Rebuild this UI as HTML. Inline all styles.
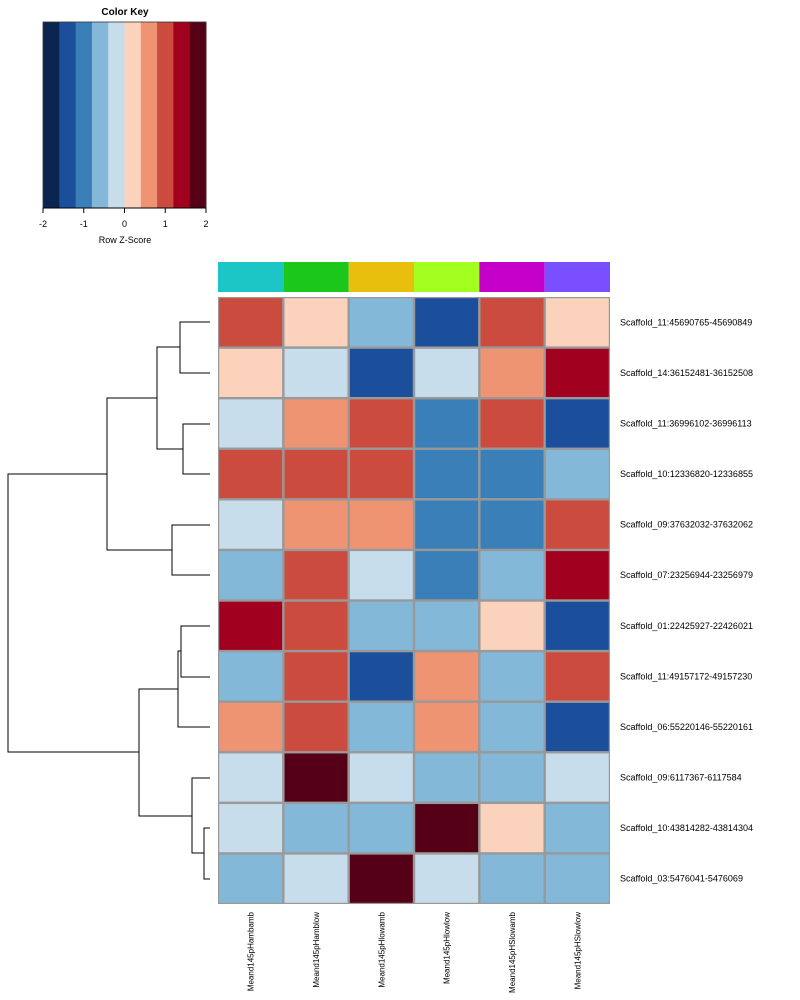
<!DOCTYPE html>
<html><head><meta charset="utf-8"><style>
body{margin:0;background:#fff;}
svg{display:block;font-family:"Liberation Sans",Arial,sans-serif;}
</style></head><body>
<svg id="c" width="800" height="1000">
<g id="key"></g>
<g id="dend" stroke="#000" fill="none" stroke-width="1">
<path d="M210,322H180V373H210 M210,424H183V474H210 M180,347H157V449H183 M210,525H172V575H210 M157,398H107V550H172"/>
<path d="M210,626H181V677H210 M181,651H178V727H210 M210,828H204V879H210 M210,778H192V853H204 M178,689H139V816H192 M107,474H8V752H139"/>
</g>
<g id="colbar"></g>
<g id="hm"></g>
<g id="rl"></g>
<g id="cl"></g>
</svg>
<script>
const rowNames=["Scaffold_11:45690765-45690849","Scaffold_14:36152481-36152508","Scaffold_11:36996102-36996113","Scaffold_10:12336820-12336855","Scaffold_09:37632032-37632062","Scaffold_07:23256944-23256979","Scaffold_01:22425927-22426021","Scaffold_11:49157172-49157230","Scaffold_06:55220146-55220161","Scaffold_09:6117367-6117584","Scaffold_10:43814282-43814304","Scaffold_03:5476041-5476069"];
const colNames=["Meand145pHambamb","Meand145pHamblow","Meand145pHlowamb","Meand145pHlowlow","Meand145pHSlowamb","Meand145pHSlowlow"];
const colGroupColors=["#1cc6c6","#1cc71c","#e8bf0c","#a3ff1f","#c400c9","#7a4fff"];
const zValues=[
[1.0,0.2,-0.6,-1.4,1.0,0.2],
[0.2,-0.2,-1.4,-0.2,0.6,1.4],
[-0.2,0.6,1.0,-1.0,1.0,-1.4],
[1.0,1.0,1.0,-1.0,-1.0,-0.6],
[-0.2,0.6,0.6,-1.0,-1.0,1.0],
[-0.6,1.0,-0.2,-1.0,-0.6,1.4],
[1.4,1.0,-0.6,-0.6,0.2,-1.4],
[-0.6,1.0,-1.4,0.6,-0.6,1.0],
[0.6,1.0,-0.6,0.6,-0.6,-1.4],
[-0.2,1.8,-0.2,-0.6,-0.6,-0.2],
[-0.2,-0.6,-0.6,1.8,0.2,-0.6],
[-0.6,-0.2,1.8,-0.2,-0.6,-0.6]];
const palette=["#0b2550","#1b4f9c","#3a7fb8","#83b8d8","#c7ddec","#fbd2bc","#ef9472","#cb4b3f","#a2001f","#550016"];
const keyTicks=[-2,-1,0,1,2];
const NS="http://www.w3.org/2000/svg";
function mk(p,t,a){const e=document.createElementNS(NS,t);for(const k in a)e.setAttribute(k,a[k]);p.appendChild(e);return e;}
const zmin=-2,zmax=2;
function colorOf(z){let i=Math.floor((z-zmin)/(zmax-zmin)*palette.length);i=Math.max(0,Math.min(palette.length-1,i));return palette[i];}
// key
const key=document.getElementById('key');
const kx0=43,kx1=206,ky0=22,ky1=208;
const kx=v=>kx0+(v-zmin)/(zmax-zmin)*(kx1-kx0);
palette.forEach((c,i)=>{const v0=zmin+i*(zmax-zmin)/palette.length,v1=zmin+(i+1)*(zmax-zmin)/palette.length;
const r=mk(key,'rect',{x:kx(v0),y:ky0,width:kx(v1)-kx(v0)+0.5,height:ky1-ky0,fill:c});

});
mk(key,'rect',{x:kx0,y:ky0,width:kx1-kx0,height:ky1-ky0,fill:'none',stroke:'#333','stroke-width':0.8});
mk(key,'line',{x1:kx0,x2:kx1,y1:ky1,y2:ky1,stroke:'#000'});
keyTicks.forEach(t=>{mk(key,'line',{x1:kx(t),x2:kx(t),y1:ky1,y2:ky1+5,stroke:'#000'});
const tx=mk(key,'text',{x:kx(t),y:ky1+19,'font-size':9,'text-anchor':'middle'});tx.textContent=t;

});
let t=mk(key,'text',{x:125,y:15,'font-size':10,'font-weight':'bold','text-anchor':'middle'});t.textContent="Color Key";

t=mk(key,'text',{x:125,y:243,'font-size':9,'text-anchor':'middle'});t.textContent="Row Z-Score";

// heatmap
const hx0=218,hx1=610,hy0=297,hy1=904;
const cw=(hx1-hx0)/colNames.length,rh=(hy1-hy0)/rowNames.length;
const colX=j=>hx0+j*cw,rowY=i=>hy0+i*rh;
const cb=document.getElementById('colbar');
colGroupColors.forEach((c,j)=>{const r=mk(cb,'rect',{x:colX(j),y:262,width:cw,height:30,fill:c});

});
const hm=document.getElementById('hm');
mk(hm,'rect',{x:hx0,y:hy0,width:hx1-hx0,height:hy1-hy0,fill:'#999'});
zValues.forEach((row,i)=>row.forEach((z,j)=>{
const r=mk(hm,'rect',{x:colX(j)+1.2,y:rowY(i)+1.2,width:cw-2.4,height:rh-2.4,fill:colorOf(z)});

}));
const rl=document.getElementById('rl');
rowNames.forEach((n,i)=>{const e=mk(rl,'text',{x:620,y:rowY(i)+rh/2+3,'font-size':9});e.textContent=n;

});
const cl=document.getElementById('cl');
colNames.forEach((n,j)=>{const cx=colX(j)+cw/2+3,cy=912;
const e=mk(cl,'text',{x:cx,y:cy,'font-size':8,'text-anchor':'end',transform:`rotate(-90 ${cx} ${cy})`});e.textContent=n;

});
</script>
</body></html>
